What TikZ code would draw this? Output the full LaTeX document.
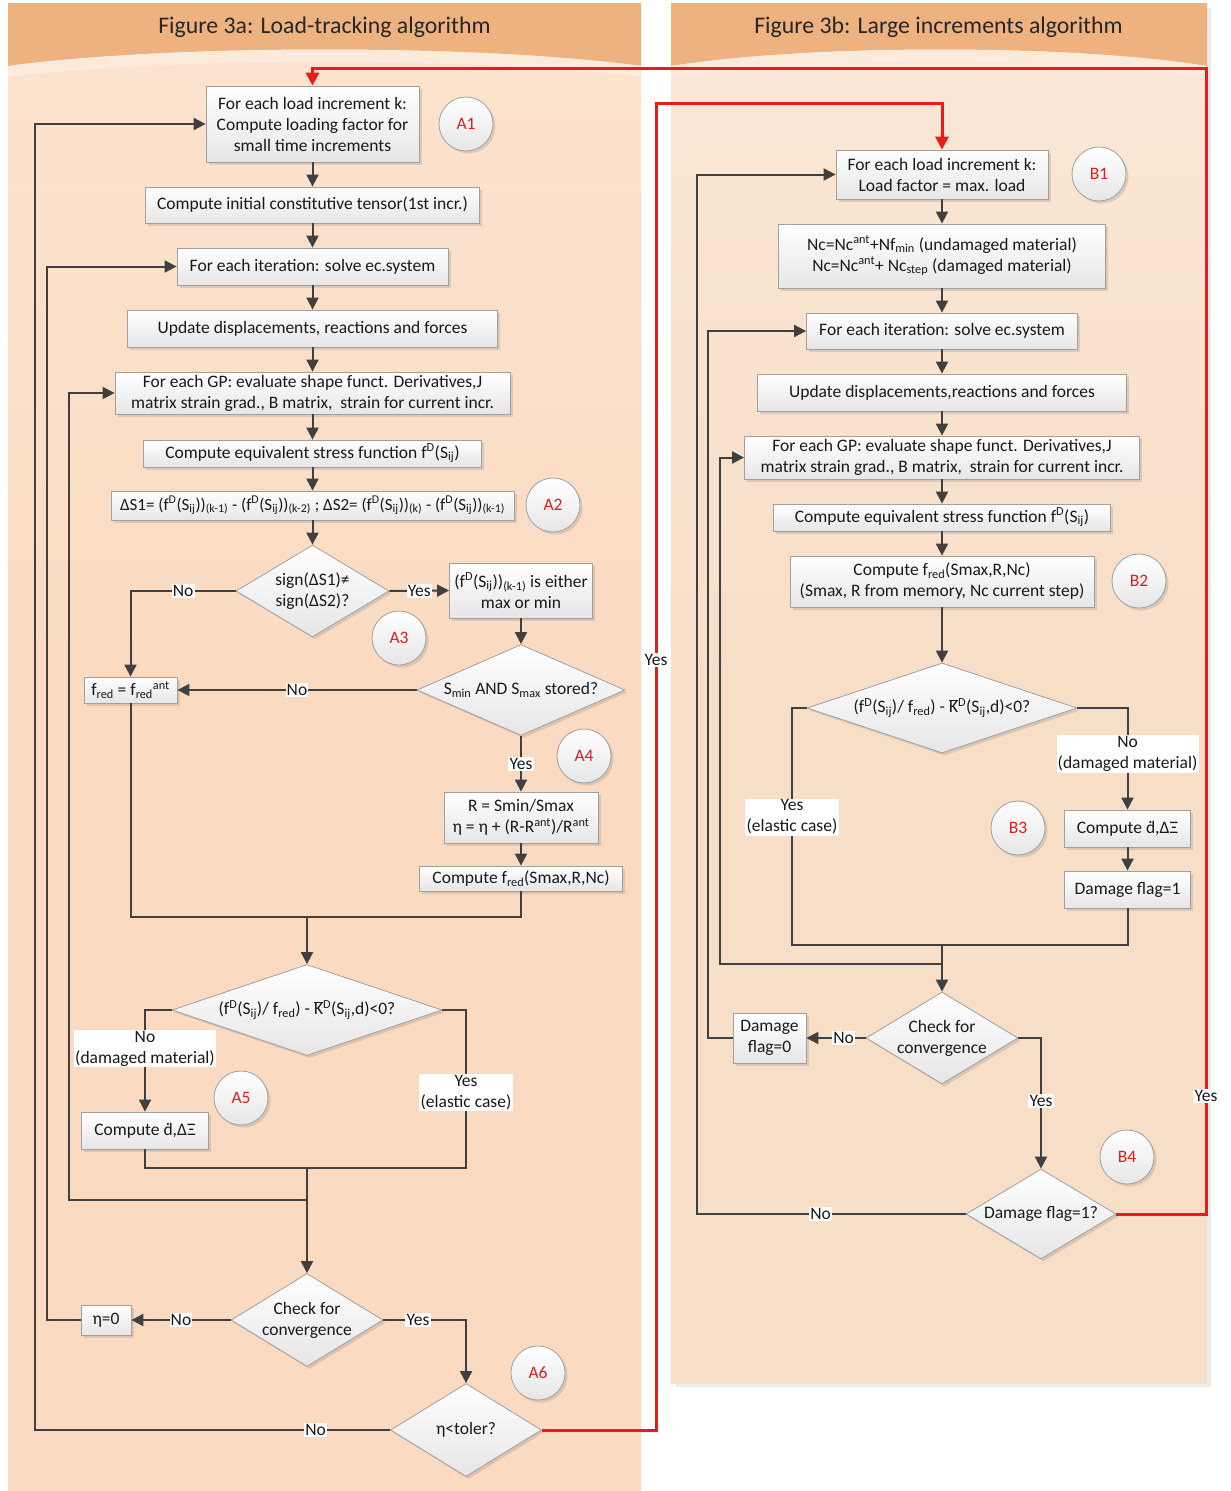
\documentclass[tikz,border=0pt]{standalone}
\usepackage{fontspec}
\setmainfont{Carlito}
\usetikzlibrary{arrows.meta,shapes.geometric,shadows}
\definecolor{hdr}{RGB}{237,178,128}
\definecolor{bodyL}{RGB}{250,218,192}
\definecolor{bodyLtop}{RGB}{252,228,208}
\definecolor{bodyR}{RGB}{247,222,199}
\definecolor{bodyRtop}{RGB}{251,232,215}
\definecolor{band}{RGB}{252,234,218}
\definecolor{edge}{RGB}{160,160,160}
\definecolor{boxbot}{RGB}{230,230,230}
\definecolor{conn}{RGB}{64,64,64}
\definecolor{rd}{RGB}{232,28,28}
\definecolor{tagred}{RGB}{225,30,30}
\tikzset{
  base/.style={font=\fontsize{17.5pt}{21pt}\selectfont, text=black!90},
  box/.style={base, draw=edge, line width=0.8pt, top color=white, bottom color=boxbot,
    inner sep=0pt, align=center,
    drop shadow={shadow xshift=2.5pt, shadow yshift=-2.5pt, opacity=0.25}},
  dia/.style={box, diamond, aspect=1},
  tag/.style={circle, draw=edge, line width=0.8pt, top color=white, bottom color=boxbot,
    minimum size=54pt, inner sep=0pt, text=tagred, font=\fontsize{17.5pt}{20pt}\selectfont,
    drop shadow={shadow xshift=2.5pt, shadow yshift=-2.5pt, opacity=0.25}},
  line/.style={draw=conn, line width=2pt},
  arr/.style={line, -{Triangle[length=12pt,width=12pt]}},
  redline/.style={draw=rd, line width=3pt},
  redarr/.style={redline, -{Triangle[length=13pt,width=13pt]}},
  lbl/.style={base, fill=white, inner sep=1.2pt, align=center},
  dlbl/.style={base, align=center},
  ttl/.style={font=\fontsize{23.8pt}{26pt}\selectfont, text=black!85}
}
\newcommand{\fD}{f\textsuperscript{D}(S\textsubscript{ij})}
\newcommand{\Kbar}{$\overline{\hbox{K}}$\textsuperscript{D}}
\begin{document}
\begin{tikzpicture}[x=1pt,y=-1pt]
\useasboundingbox (0,0) rectangle (1231,1491);
% ---------- panels ----------
\shade[top color=bodyLtop, bottom color=bodyL, middle color=bodyL] (8,3) rectangle (641,1491);
\fill[hdr] (8,3) -- (641,3) -- (641,66) .. controls (480,44) and (170,44) .. (8,66) -- cycle;
\fill[band] (8,66) .. controls (170,44) and (480,44) .. (641,66) -- (641,77) .. controls (480,57) and (170,57) .. (8,77) -- cycle;
\fill[black, opacity=0.08] (1207,8) rectangle (1211,1387);
\fill[black, opacity=0.08] (676,1383) rectangle (1207,1387);
\shade[top color=bodyRtop, bottom color=bodyR, middle color=bodyR] (671,3) rectangle (1207,1383);
\fill[hdr] (671,3) -- (1207,3) -- (1207,66) .. controls (1070,44) and (810,44) .. (671,66) -- cycle;
\fill[band] (671,66) .. controls (810,44) and (1070,44) .. (1207,66) -- (1207,77) .. controls (1070,57) and (810,57) .. (671,77) -- cycle;
\node[ttl] (t1) at (324.5,27) {Figure 3a: Load-tracking algorithm};
\node[ttl] (t2) at (938.5,27) {Figure 3b: Large increments algorithm};
% ---------- left nodes ----------
\node[box, minimum width=213, minimum height=76] (a1) at (312.5,124) {For each load increment k:\\Compute loading factor for\\small time increments};
\node[tag] (ta1) at (466,124) {A1};
\node[box, minimum width=334, minimum height=36] (a2) at (312.5,205) {Compute initial constitutive tensor(1st incr.)};
\node[box, minimum width=271, minimum height=37] (a3) at (312.5,266.5) {For each iteration: solve ec.system};
\node[box, minimum width=370, minimum height=37] (a4) at (312.5,328.5) {Update displacements, reactions and forces};
\node[box, minimum width=395, minimum height=42] (a5) at (312.5,393) {For each GP: evaluate shape funct. Derivatives,J\\matrix strain grad., B matrix,\ \ strain for current incr.};
\node[box, minimum width=338, minimum height=27] (a6) at (312.5,453.5) {Compute equivalent stress function \fD};
\node[box, minimum width=403, minimum height=29, font=\fontsize{17pt}{21pt}\selectfont] (a7) at (312.5,505.5) {ΔS1= (\fD)\textsubscript{(k-1)} - (\fD)\textsubscript{(k-2)} ; ΔS2= (\fD)\textsubscript{(k)} - (\fD)\textsubscript{(k-1)}};
\node[tag] (ta2) at (553,505) {A2};
\node[dia, minimum width=153, minimum height=92, label={[dlbl]center:{sign(ΔS1)≠\\sign(ΔS2)?}}] (d1) at (312.5,591) {};
\node[box, minimum width=143, minimum height=55] (a8) at (521,590.5) {(\fD)\textsubscript{(k-1)} is either\\max or min};
\node[tag] (ta3) at (399,638) {A3};
\node[dia, minimum width=208, minimum height=91, label={[dlbl]center:{S\textsubscript{min} AND S\textsubscript{max} stored?}}] (d2) at (521,690) {};
\node[box, minimum width=93, minimum height=26] (a9) at (130.5,690) {f\textsubscript{red} = f\textsubscript{red}\textsuperscript{ant}};
\node[tag] (ta4) at (584,756) {A4};
\node[box, minimum width=154, minimum height=51] (a10) at (521,817.5) {R = Smin/Smax\\η = η + (R-R\textsuperscript{ant})/R\textsuperscript{ant}};
\node[box, minimum width=203, minimum height=25] (a11) at (521,878.5) {Compute f\textsubscript{red}(Smax,R,Nc)};
\node[dia, minimum width=270, minimum height=91, label={[dlbl]center:{(\fD/ f\textsubscript{red}) - \Kbar(S\textsubscript{ij},d)<0?}}] (d3) at (307,1010) {};
\node[box, minimum width=127, minimum height=37] (a12) at (145,1130.5) {Compute ḋ,ΔΞ};
\node[tag] (ta5) at (241,1098) {A5};
\node[dia, minimum width=152, minimum height=93, label={[dlbl]center:{Check for\\convergence}}] (d4) at (307,1320) {};
\node[box, minimum width=50, minimum height=30] (a13) at (106,1320) {η=0};
\node[tag] (ta6) at (538,1373) {A6};
\node[dia, minimum width=151, minimum height=93, label={[dlbl]center:{η<toler?}}] (d5) at (466,1430) {};
% ---------- right nodes ----------
\node[box, minimum width=212, minimum height=49] (b1) at (942,174.5) {For each load increment k:\\Load factor = max. load};
\node[tag] (tb1) at (1099,174) {B1};
\node[box, minimum width=327, minimum height=64] (b2) at (942,256) {Nc=Nc\textsuperscript{ant}+Nf\textsubscript{min} (undamaged material)\\Nc=Nc\textsuperscript{ant}+ Nc\textsubscript{step} (damaged material)};
\node[box, minimum width=271, minimum height=36] (b3) at (942,331) {For each iteration: solve ec.system};
\node[box, minimum width=369, minimum height=37] (b4) at (942,392.5) {Update displacements,reactions and forces};
\node[box, minimum width=395, minimum height=43] (b5) at (942,457.5) {For each GP: evaluate shape funct. Derivatives,J\\matrix strain grad., B matrix,\ \ strain for current incr.};
\node[box, minimum width=337, minimum height=27] (b6) at (942,517.5) {Compute equivalent stress function \fD};
\node[box, minimum width=304, minimum height=51] (b7) at (942,581.5) {Compute f\textsubscript{red}(Smax,R,Nc)\\(Smax, R from memory, Nc current step)};
\node[tag] (tb2) at (1139,581) {B2};
\node[dia, minimum width=270, minimum height=90, label={[dlbl]center:{(\fD/ f\textsubscript{red}) - \Kbar(S\textsubscript{ij},d)<0?}}] (e1) at (942,708) {};
\node[box, minimum width=126, minimum height=37] (b8) at (1127.5,828.5) {Compute ḋ,ΔΞ};
\node[box, minimum width=126, minimum height=37] (b9) at (1127.5,889.5) {Damage flag=1};
\node[tag] (tb3) at (1018,828) {B3};
\node[dia, minimum width=152, minimum height=92, label={[dlbl]center:{Check for\\convergence}}] (e2) at (942,1038) {};
\node[box, minimum width=73, minimum height=50] (b10) at (769.5,1038) {Damage\\flag=0};
\node[dia, minimum width=150, minimum height=90, label={[dlbl]center:{Damage flag=1?}}] (e3) at (1041,1214) {};
\node[tag] (tb4) at (1127,1157) {B4};
% ---------- left connectors ----------
\draw[arr] (a1.south) -- (a2.north);
\draw[arr] (a2.south) -- (a3.north);
\draw[arr] (a3.south) -- (a4.north);
\draw[arr] (a4.south) -- (a5.north);
\draw[arr] (a5.south) -- (a6.north);
\draw[arr] (a6.south) -- (a7.north);
\draw[arr] (a7.south) -- (d1.north);
\draw[arr] (d1.east) -- node[lbl]{Yes} (a8.west);
\draw[arr] (d1.west) -| node[lbl,pos=0.25]{No} (a9.north);
\draw[arr] (a8.south) -- (d2.north);
\draw[arr] (d2.west) -- node[lbl]{No} (a9.east);
\draw[arr] (d2.south) -- node[lbl]{Yes} (a10.north);
\draw[arr] (a10.south) -- (a11.north);
\coordinate (m1) at (307,917);
\draw[line] (a9.south) |- (m1) -| (a11.south);
\draw[arr] (m1) -- (d3.north);
\draw[arr] (d3.west) -| node[lbl,pos=0.69]{No\\(damaged material)} (a12.north);
\coordinate (m2) at (307,1168);
\coordinate (r2) at (466,1168);
\draw[line] (d3.east) -| node[lbl,pos=0.76]{Yes\\(elastic case)} (r2) -- (m2);
\draw[line] (a12.south) |- (m2);
\coordinate (m3) at (307,1200);
\draw[arr] (m2) -- (d4.north);
\coordinate (l3) at (69,1200);
\draw[arr] (m3) -- (l3) |- (a5.west);
\draw[arr] (d4.west) -- node[lbl]{No} (a13.east);
\coordinate (l2) at (47,1320);
\draw[arr] (a13.west) -- (l2) |- (a3.west);
\draw[arr] (d4.east) -| node[lbl,pos=0.21]{Yes} (d5.north);
\coordinate (l1) at (35,1430);
\draw[arr] (d5.west) -- node[lbl,pos=0.21]{No} (l1) |- (a1.west);
% ---------- right connectors ----------
\draw[arr] (b1.south) -- (b2.north);
\draw[arr] (b2.south) -- (b3.north);
\draw[arr] (b3.south) -- (b4.north);
\draw[arr] (b4.south) -- (b5.north);
\draw[arr] (b5.south) -- (b6.north);
\draw[arr] (b6.south) -- (b7.north);
\draw[arr] (b7.south) -- (e1.north);
\draw[arr] (e1.east) -| node[lbl,pos=0.725]{No\\(damaged material)} (b8.north);
\draw[arr] (b8.south) -- (b9.north);
\coordinate (mb) at (942,945);
\coordinate (rb) at (792,945);
\draw[line] (e1.west) -| node[lbl,pos=0.73]{Yes\\(elastic case)} (rb) -- (mb);
\draw[line] (b9.south) |- (mb);
\draw[arr] (mb) -- (e2.north);
\coordinate (mb2) at (942,964);
\coordinate (lb3) at (720,964);
\draw[arr] (mb2) -- (lb3) |- (b5.west);
\draw[arr] (e2.west) -- node[lbl,pos=0.37]{No} (b10.east);
\coordinate (lb2) at (708,1038);
\draw[arr] (b10.west) -- (lb2) |- (b3.west);
\draw[arr] (e2.east) -| node[lbl,pos=0.74]{Yes} (e3.north);
\coordinate (lb1) at (697,1214);
\draw[arr] (e3.west) -- node[lbl,pos=0.54]{No} (lb1) |- (b1.west);
% ---------- red connectors ----------
\coordinate (r1a) at (656,1430);
\coordinate (r1b) at (656,103);
\coordinate (r1c) at (942,103);
\draw[redarr] (d5.east) -- (r1a) -- node[lbl,pos=0.58]{Yes} (r1b) -- (r1c) -- (b1.north);
\coordinate (r2a) at (1206,1214);
\coordinate (r2b) at (1206,68);
\coordinate (r2c) at (312.5,68);
\draw[redarr] (e3.east) -- (r2a) -- node[lbl,pos=0.103]{Yes} (r2b) -- (r2c) -- (a1.north);
\end{tikzpicture}
\end{document}
